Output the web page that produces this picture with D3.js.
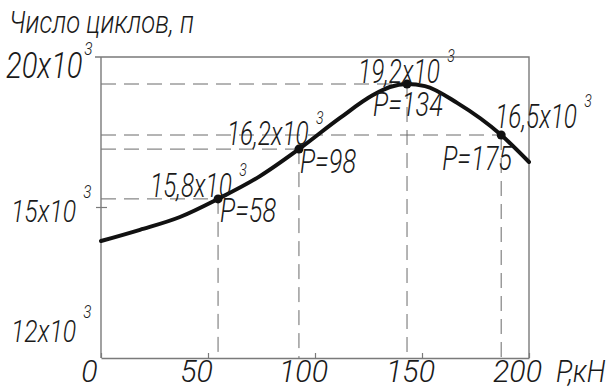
<!DOCTYPE html>
<html><head><meta charset="utf-8">
<script src="https://cdn.jsdelivr.net/npm/d3@7"></script>
<style>
html,body{margin:0;padding:0;background:#fff;}
svg text{font-family:Roboto,"Liberation Sans",sans-serif;font-style:italic;font-weight:300;fill:#1a1a1a;}
</style></head>
<body>
<svg id="c" width="612" height="387"></svg>
<script>
// ---- data ----
const yTitle = "Число циклов, п";
const xTitle = "P,кН";
const xTicks = [0, 50, 100, 150, 200];
const yTicks = [20, 15, 12];
const yTickLabels = ["20x10", "15x10", "12x10"];
const tickExponent = "3";
// smooth curve n(P), thousands of cycles
const curveP = [0, 18.2, 36.9, 54.7, 74.3, 92.5, 111.7, 127.1, 135, 143, 151.4, 166.4, 187, 200];
const curveN = [14.15, 14.43, 14.75, 15.27, 16.03, 16.93, 17.97, 18.73, 19.0, 19.1, 19.03, 18.47, 17.4, 16.5];
// marked points
const pointP = [54.7, 92.5, 143, 187];
const pointN = [15.27, 16.93, 19.1, 17.4];
const pointValueLabels = ["15,8x10", "16,2x10", "19,2x10", "16,5x10"];
const pointPLabels = ["P=58", "P=98", "P=134", "P=175"];

(function () {
const svg = d3.select("#c");
const mL = 101, mR = 529, mT = 57, mB = 358;
const x = d3.scaleLinear().domain([0, 200]).range([mL, mR]);
const y = d3.scaleLinear().domain([12, 15, 20]).range([327, 207, mT]);
const axisColor = "#7a7a7a";

function addText(parent, tx, ty, size, sx, str, sup, supDx, supDy) {
  const t = parent.append("text")
    .attr("transform", `translate(${tx},${ty}) scale(${sx},1)`)
    .attr("font-size", size);
  t.append("tspan").text(str);
  if (sup) t.append("tspan").attr("dx", supDx).attr("dy", supDy).attr("font-size", 19).text(sup);
  return t;
}

// frame (top + right)
svg.append("path")
  .attr("d", `M${mL - 6},${mT}H${mR}V${mB}`)
  .attr("fill", "none").attr("stroke", axisColor).attr("stroke-width", 1.4);

// dashed guide lines
const guides = svg.append("g").attr("stroke", "#6a6a6a").attr("stroke-width", 1)
  .attr("stroke-dasharray", "15,8").attr("fill", "none");
pointP.forEach((p, i) => {
  guides.append("line").attr("x1", x(0)).attr("x2", x(p)).attr("y1", y(pointN[i])).attr("y2", y(pointN[i]));
  guides.append("line").attr("x1", x(p)).attr("x2", x(p)).attr("y1", y(pointN[i])).attr("y2", mB);
});

// x axis
const xAxis = svg.append("g").attr("transform", `translate(0,${mB})`)
  .call(d3.axisBottom(x).tickValues(xTicks).tickSizeInner(-5).tickSizeOuter(0).tickPadding(4));
xAxis.attr("font-family", null).attr("font-size", null);
xAxis.select(".domain").attr("stroke", axisColor).attr("stroke-width", 1.4);
xAxis.selectAll(".tick line").attr("stroke", axisColor).attr("stroke-width", 1.2);
xAxis.selectAll(".tick text").attr("font-size", 32).attr("fill", "#1a1a1a")
  .attr("y", 0).attr("dy", null)
  .attr("transform", `translate(-12,24) scale(0.95,1)`);
addText(svg, x(200) + 27, mB + 24, 31, 0.88, xTitle);

// y axis
const yAxis = svg.append("g").attr("transform", `translate(${mL},0)`)
  .call(d3.axisLeft(y).tickValues(yTicks).tickSizeOuter(0).tickSize(5).tickFormat(() => ""));
yAxis.select(".domain").attr("d", `M0,${mT}V${mB}`).attr("stroke", axisColor).attr("stroke-width", 1.4);
yAxis.selectAll(".tick line").attr("stroke", axisColor).attr("stroke-width", 1.2)
  .attr("x2", d => d === 15 ? 6 : 0).attr("x1", d => d === 15 ? -5 : 0);
yAxis.selectAll(".tick text").remove();
yTicks.forEach((v, i) => {
  const big = i === 0;
  addText(svg, big ? 6 : 11, y(v) + (big ? 21 : 15), big ? 36 : 31, big ? 0.81 : 0.8,
          yTickLabels[i], tickExponent, big ? 2 : 9, big ? -23 : -24);
});

// title
addText(svg, 9, 33, 32, 0.8, yTitle);

// curve
const line = d3.line().x((d, i) => x(curveP[i])).y((d, i) => y(curveN[i])).curve(d3.curveMonotoneX);
svg.append("path").datum(curveP).attr("d", line)
  .attr("fill", "none").attr("stroke", "#111").attr("stroke-width", 4).attr("stroke-linecap", "round");

// points
svg.append("g").selectAll("circle").data(pointP).join("circle")
  .attr("cx", d => x(d)).attr("cy", (d, i) => y(pointN[i])).attr("r", 4.5).attr("fill", "#111");

// annotations
const valOff = [[-68, -2], [-72, -4], [-49, -1], [-6, -7]];
const pOff = [[2, 23], [1, 24], [-34, 32], [-59, 35]];
pointP.forEach((p, i) => {
  const px = x(p), py = y(pointN[i]);
  addText(svg, px + valOff[i][0], py + valOff[i][1], 33, 0.74, pointValueLabels[i], tickExponent, 10, -21);
  addText(svg, px + pOff[i][0], py + pOff[i][1], 33, 0.77, pointPLabels[i]);
});
})();
</script>
</body></html>
